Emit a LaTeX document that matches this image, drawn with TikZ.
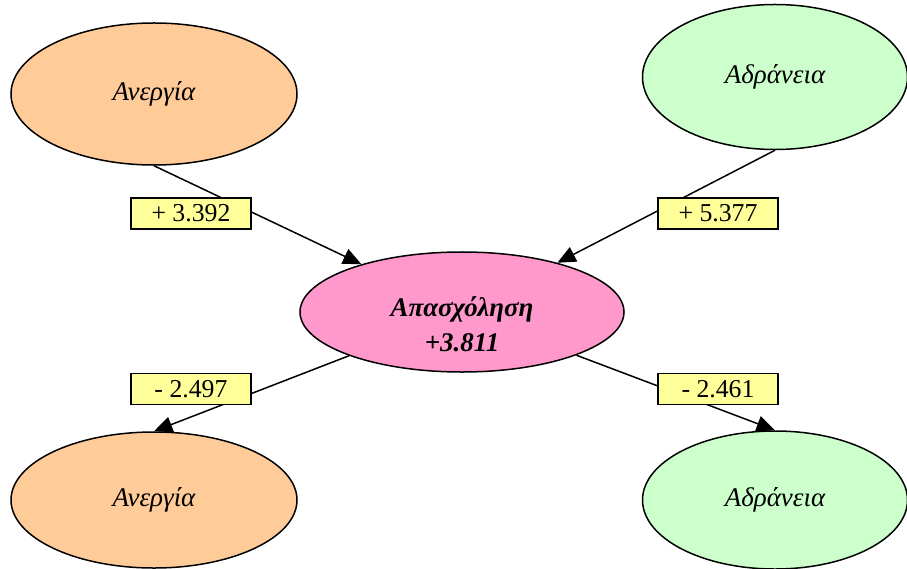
\documentclass[tikz,border=0pt]{standalone}
\usepackage{fontspec}
\setmainfont{Liberation Serif}
\usetikzlibrary{shapes.geometric,arrows.meta}
\definecolor{unempfill}{HTML}{FFCC99}
\definecolor{inactfill}{HTML}{CCFFCC}
\definecolor{empfill}{HTML}{FF99CC}
\definecolor{weightfill}{HTML}{FFFF99}
\begin{document}
\begin{tikzpicture}[x=0.03cm,y=-0.03cm,
  stateell/.style={ellipse, draw=black, line width=0.045cm, inner sep=0pt,
    font=\fontsize{23}{27}\selectfont\itshape},
  weightbox/.style={draw=black, fill=weightfill, line width=0.045cm, inner sep=0pt,
    minimum width=3.6cm, minimum height=0.93cm, font=\fontsize{22}{26}\selectfont},
  flow/.style={black, line width=0.045cm, -{Triangle[length=0.55cm,width=0.48cm]}}]
  \useasboundingbox (0,0) rectangle (907,569);
  \clip (0,0) rectangle (907,569);
  % draw state ellipses
  \node[stateell, fill=unempfill, minimum width=8.58cm, minimum height=4.26cm] (unempin) at (154,94) {Ανεργία};
  \node[stateell, fill=inactfill, minimum width=7.95cm, minimum height=4.35cm] (inactin) at (775,77) {Αδράνεια};
  \node[stateell, fill=empfill, minimum width=9.72cm, minimum height=3.6cm] (emp) at (462,312) {};
  \node[font=\fontsize{23}{30}\selectfont\bfseries\itshape, align=center] (emptext) at (462,324) {Απασχόληση\\+3.811};
  \node[stateell, fill=unempfill, minimum width=8.58cm, minimum height=4.08cm] (unempout) at (154,500) {Ανεργία};
  \node[stateell, fill=inactfill, minimum width=7.95cm, minimum height=4.14cm] (inactout) at (775,500) {Αδράνεια};
  % draw flows into and out of employment
  \draw[flow] (unempin.south) -- (emp);
  \draw[flow] (inactin.south) -- (emp);
  \draw[flow] (emp) -- (unempout.north);
  \draw[flow] (emp) -- (inactout.north);
  % draw weight labels
  \node[weightbox] (w_unempin) at (191,213.5) {+ 3.392};
  \node[weightbox] (w_inactin) at (718,213.5) {+ 5.377};
  \node[weightbox] (w_unempout) at (191,389) {- 2.497};
  \node[weightbox] (w_inactout) at (718,389) {- 2.461};
\end{tikzpicture}
\end{document}
